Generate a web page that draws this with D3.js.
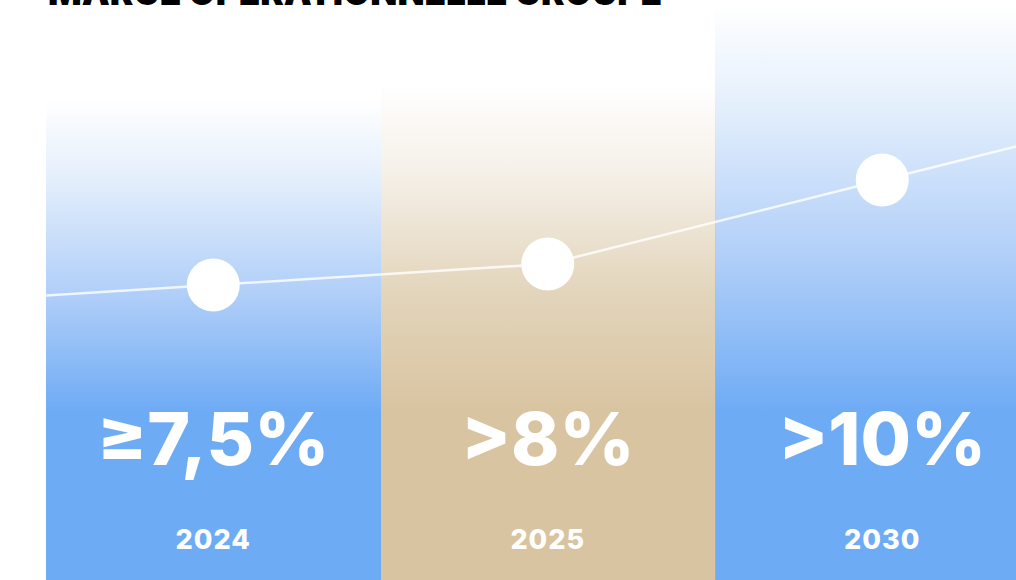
<!DOCTYPE html>
<html>
<head>
<meta charset="utf-8">
<script src="https://cdn.jsdelivr.net/npm/d3@7"></script>
<style>
  html, body { margin: 0; padding: 0; background: #fff; overflow: hidden; }
  svg { display: block; }
</style>
</head>
<body>
<svg id="chart"></svg>
<script>
// chart data
const title = "MARGE OPÉRATIONNELLE GROUPE"
const years = ["2024", "2025", "2030"]
const margins = [7.5, 8, 10]
const labels = ["≥7,5%", ">8%", ">10%"]
const themes = ["blue", "sand", "blue"]

const full_width = 1016
const full_height = 580

const svg = d3.select("#chart")
  .attr("width", full_width)
  .attr("height", full_height)
  .attr("viewBox", `0 0 ${full_width} ${full_height}`)

const col_left = 46
const col_width = 334.5
const x = d3.scaleBand()
  .domain(years)
  .range([col_left, col_left + col_width * years.length])
  .padding(0)

const y = d3.scaleLinear()
  .domain([0, 10])
  .range([600, 180])

// top of each column where the fade starts
const fadeTop = [100, 84, 4]
const solidAt = 412

const palette = {
  blue: ["#ffffff", "#e4effc", "#acccf8", "#6eabf5"],
  sand: ["#ffffff", "#f6f1ea", "#e2d4ba", "#d9c4a1"]
}

const defs = svg.append("defs")
years.forEach((yr, i) => {
  const c = palette[themes[i]]
  const g = defs.append("linearGradient")
    .attr("id", "grad-" + yr)
    .attr("gradientUnits", "userSpaceOnUse")
    .attr("x1", 0).attr("x2", 0)
    .attr("y1", fadeTop[i]).attr("y2", solidAt)
  g.append("stop").attr("offset", "0%").attr("stop-color", c[0])
  g.append("stop").attr("offset", "25%").attr("stop-color", c[1])
  g.append("stop").attr("offset", "65%").attr("stop-color", c[2])
  g.append("stop").attr("offset", "100%").attr("stop-color", c[3])
})

// seam fade: grey edge that fades in from the top like the columns
const seamGrad = defs.append("linearGradient")
  .attr("id", "seam-grad")
  .attr("gradientUnits", "userSpaceOnUse")
  .attr("x1", 0).attr("x2", 0)
  .attr("y1", fadeTop[1]).attr("y2", solidAt)
seamGrad.append("stop").attr("offset", "0%").attr("stop-color", "#b9b3a8").attr("stop-opacity", 0)
seamGrad.append("stop").attr("offset", "100%").attr("stop-color", "#b9b3a8").attr("stop-opacity", 0.4)

// columns
svg.append("g")
  .attr("shape-rendering", "crispEdges")
  .selectAll("rect")
  .data(years)
  .enter()
  .append("rect")
  .attr("x", d => Math.round(x(d)))
  .attr("y", (d, i) => fadeTop[i])
  .attr("width", d => Math.round(x(d) + x.bandwidth()) - Math.round(x(d)))
  .attr("height", (d, i) => full_height - fadeTop[i])
  .attr("fill", d => `url(#grad-${d})`)

// thin seam between 2025 and 2030
svg.append("rect")
  .attr("x", Math.round(x("2030")))
  .attr("y", fadeTop[1])
  .attr("width", 1)
  .attr("height", full_height - fadeTop[1])
  .attr("fill", "url(#seam-grad)")

// trend line, extended past first/last points along the end segments
const cx = d => x(d) + x.bandwidth() / 2
const pts = years.map((yr, i) => [cx(yr), y(margins[i])])
const extend = (a, b, xt) => [xt, a[1] + (b[1] - a[1]) * (xt - a[0]) / (b[0] - a[0])]
const n = pts.length
const linePts = [extend(pts[0], pts[1], col_left), ...pts, extend(pts[n - 2], pts[n - 1], full_width)]

svg.append("path")
  .datum(linePts)
  .attr("d", d3.line())
  .attr("fill", "none")
  .attr("stroke", "#ffffff")
  .attr("stroke-opacity", 0.8)
  .attr("stroke-width", 2.5)

svg.append("g")
  .selectAll("circle")
  .data(years)
  .enter()
  .append("circle")
  .attr("cx", d => cx(d))
  .attr("cy", (d, i) => y(margins[i]))
  .attr("r", 26.5)
  .attr("fill", "#ffffff")

// big value labels
svg.append("g")
  .selectAll("text")
  .data(years)
  .enter()
  .append("text")
  .attr("x", d => cx(d))
  .attr("y", 465)
  .attr("text-anchor", "middle")
  .attr("font-family", "Inter, 'Noto Sans', sans-serif")
  .attr("font-weight", 800)
  .attr("font-size", "73px")
  .attr("fill", "#ffffff")
  .text((d, i) => labels[i])

// year labels
svg.append("g")
  .selectAll("text")
  .data(years)
  .enter()
  .append("text")
  .attr("x", d => cx(d))
  .attr("y", 549)
  .attr("text-anchor", "middle")
  .attr("font-family", "Inter, 'Noto Sans', sans-serif")
  .attr("font-weight", 800)
  .attr("font-size", "27px")
  .attr("letter-spacing", "1px")
  .attr("fill", "#ffffff")
  .text(d => d)

// title, mostly cropped off the top (as in the source)
svg.append("text")
  .attr("x", 48)
  .attr("y", 5)
  .attr("font-family", "Inter, 'Noto Sans', sans-serif")
  .attr("font-weight", 900)
  .attr("font-size", "38px")
  .attr("textLength", 614)
  .attr("lengthAdjust", "spacingAndGlyphs")
  .attr("fill", "#000000")
  .text(title)
</script>
</body>
</html>
